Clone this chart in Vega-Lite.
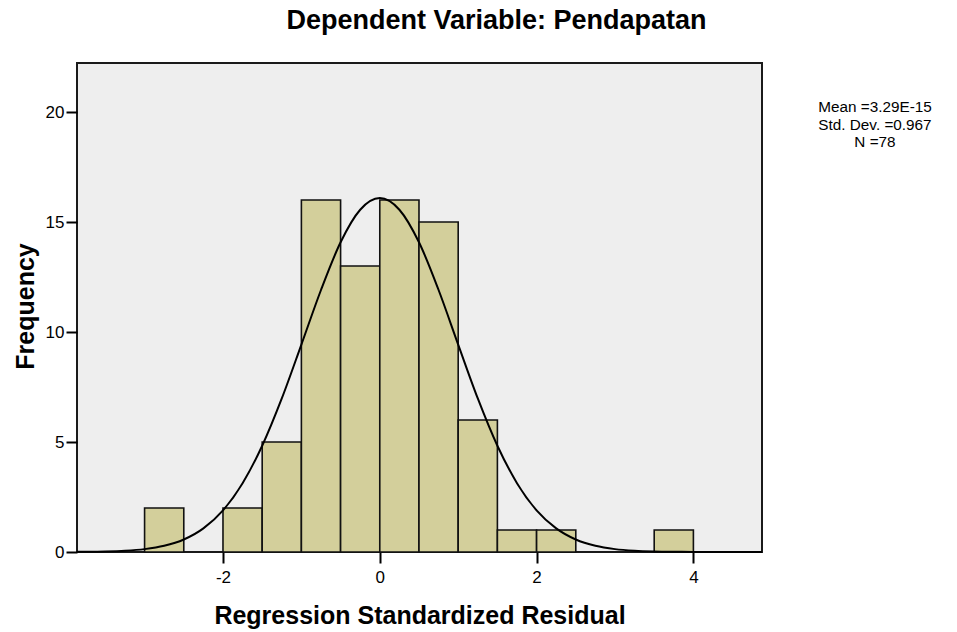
{
  "$schema": "https://vega.github.io/schema/vega-lite/v6.json",
  "width": 685,
  "height": 489,
  "autosize": {"type": "none"},
  "padding": {"left": 77, "top": 63, "right": 195, "bottom": 80},
  "background": "white",
  "title": {
    "text": "Dependent Variable: Pendapatan",
    "font": "Liberation Sans",
    "fontSize": 27,
    "fontWeight": "bold",
    "color": "black",
    "dx": 77,
    "offset": 7,
    "baseline": "alphabetic"
  },
  "config": {
    "view": {"fill": "#eeeeee", "stroke": "#1a1a1a", "strokeWidth": 2},
    "axis": {
      "domain": false,
      "grid": false,
      "tickColor": "black",
      "tickWidth": 2,
      "tickSize": 11,
      "labelFont": "Liberation Sans",
      "labelFontSize": 17,
      "labelColor": "black",
      "labelExpr": "'' + datum.value",
      "titleFont": "Liberation Sans",
      "titleFontSize": 25,
      "titleFontWeight": "bold",
      "titleColor": "black"
    }
  },
  "datasets": {
    "bins": [
      {"bin_start": -3.0, "bin_end": -2.5, "frequency": 2},
      {"bin_start": -2.0, "bin_end": -1.5, "frequency": 2},
      {"bin_start": -1.5, "bin_end": -1.0, "frequency": 5},
      {"bin_start": -1.0, "bin_end": -0.5, "frequency": 16},
      {"bin_start": -0.5, "bin_end": 0.0, "frequency": 13},
      {"bin_start": 0.0, "bin_end": 0.5, "frequency": 16},
      {"bin_start": 0.5, "bin_end": 1.0, "frequency": 15},
      {"bin_start": 1.0, "bin_end": 1.5, "frequency": 6},
      {"bin_start": 1.5, "bin_end": 2.0, "frequency": 1},
      {"bin_start": 2.0, "bin_end": 2.5, "frequency": 1},
      {"bin_start": 3.5, "bin_end": 4.0, "frequency": 1}
    ],
    "curve": [
      {"x": -3.862, "y": 0.006},
      {"x": -3.75, "y": 0.009},
      {"x": -3.5, "y": 0.023},
      {"x": -3.25, "y": 0.057},
      {"x": -3.0, "y": 0.131},
      {"x": -2.75, "y": 0.282},
      {"x": -2.5, "y": 0.569},
      {"x": -2.25, "y": 1.074},
      {"x": -2.0, "y": 1.895},
      {"x": -1.75, "y": 3.13},
      {"x": -1.5, "y": 4.83},
      {"x": -1.25, "y": 6.98},
      {"x": -1.0, "y": 9.43},
      {"x": -0.75, "y": 11.91},
      {"x": -0.5, "y": 14.08},
      {"x": -0.25, "y": 15.56},
      {"x": 0.0, "y": 16.09},
      {"x": 0.25, "y": 15.56},
      {"x": 0.5, "y": 14.08},
      {"x": 0.75, "y": 11.91},
      {"x": 1.0, "y": 9.43},
      {"x": 1.25, "y": 6.98},
      {"x": 1.5, "y": 4.83},
      {"x": 1.75, "y": 3.13},
      {"x": 2.0, "y": 1.895},
      {"x": 2.25, "y": 1.074},
      {"x": 2.5, "y": 0.569},
      {"x": 2.75, "y": 0.282},
      {"x": 3.0, "y": 0.131},
      {"x": 3.25, "y": 0.057},
      {"x": 3.5, "y": 0.023},
      {"x": 3.75, "y": 0.009},
      {"x": 4.0, "y": 0.003},
      {"x": 4.25, "y": 0.001},
      {"x": 4.5, "y": 0.0003},
      {"x": 4.875, "y": 0.0}
    ]
  },
  "layer": [
    {
      "data": {"name": "bins"},
      "mark": {"type": "rect", "fill": "#d3cf9b", "stroke": "#111111", "strokeWidth": 1.6},
      "encoding": {
        "x": {
          "field": "bin_start",
          "type": "quantitative",
          "scale": {"domain": [-3.862, 4.875], "nice": false, "zero": false},
          "axis": {"values": [-2, 0, 2, 4], "labelPadding": 6, "titleBaseline": "alphabetic", "titleY": 71.5, "titleX": 342.5},
          "title": "Regression Standardized Residual"
        },
        "x2": {"field": "bin_end"},
        "y": {
          "field": "frequency",
          "type": "quantitative",
          "scale": {"domain": [0, 22.23], "nice": false},
          "axis": {"values": [0, 5, 10, 15, 20], "labelPadding": 2, "titleBaseline": "alphabetic", "titleX": -44, "titleY": 243},
          "title": "Frequency"
        },
        "y2": {"datum": 0}
      }
    },
    {
      "data": {"name": "curve"},
      "mark": {"type": "line", "color": "black", "strokeWidth": 2, "interpolate": "monotone"},
      "encoding": {
        "x": {"field": "x", "type": "quantitative"},
        "y": {"field": "y", "type": "quantitative"}
      }
    },
    {
      "data": {"values": [{"mean": "3.29E-15", "sd": 0.967, "n": 78}]},
      "mark": {
        "type": "text",
        "text": ["Mean =3.29E-15", "Std. Dev. =0.967", "N =78"],
        "font": "Liberation Sans",
        "fontSize": 15.3,
        "lineHeight": 17.5,
        "align": "center",
        "baseline": "alphabetic",
        "color": "black"
      },
      "encoding": {
        "x": {"datum": 6.316},
        "y": {"datum": 19.98}
      }
    }
  ]
}
